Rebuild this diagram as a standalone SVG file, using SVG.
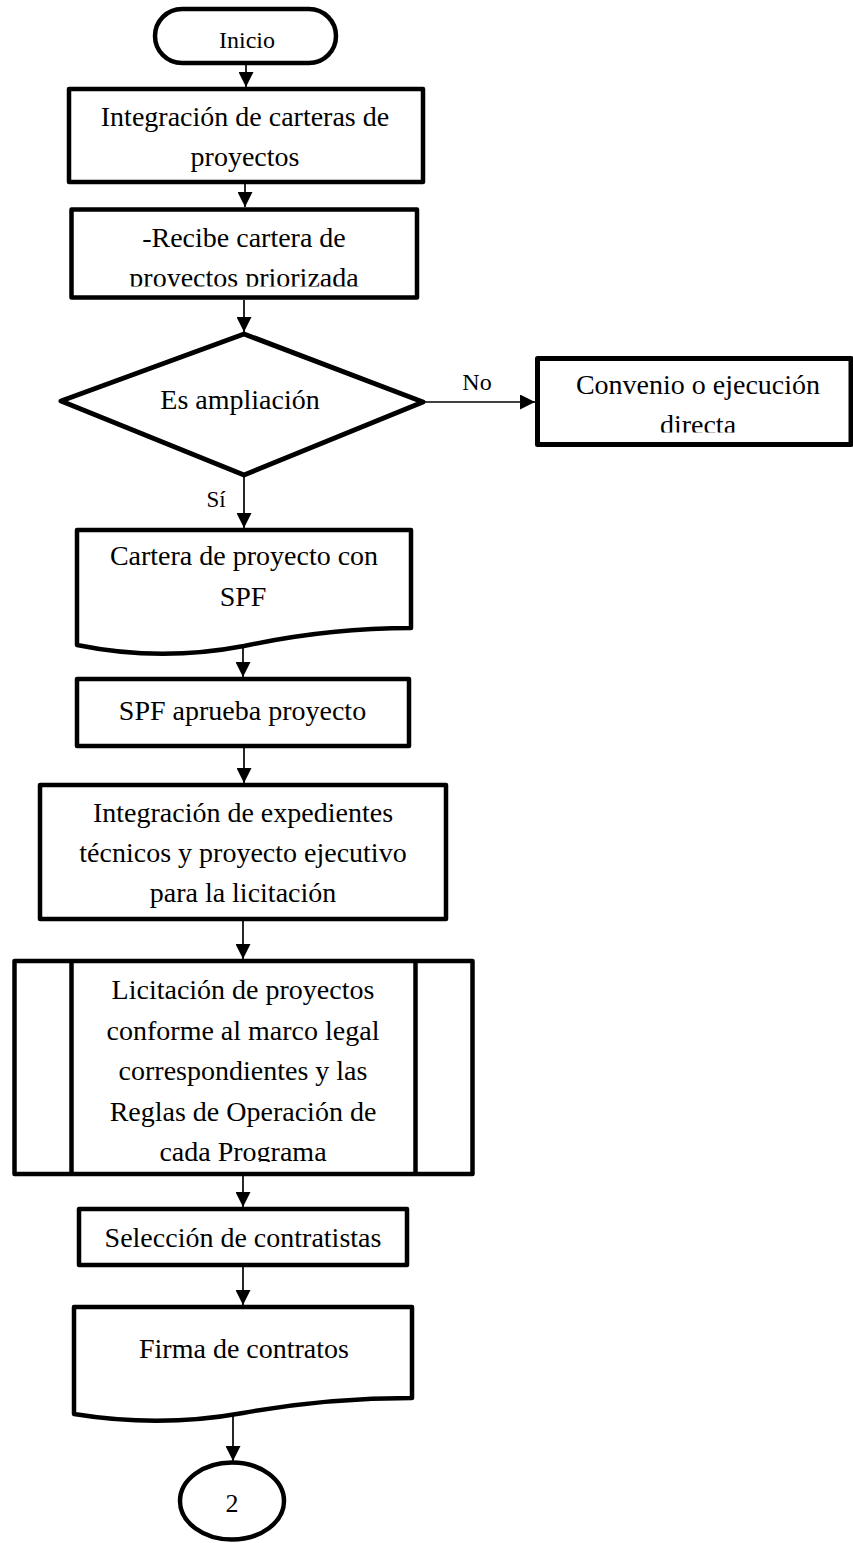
<svg xmlns="http://www.w3.org/2000/svg" width="853" height="1543" viewBox="0 0 853 1543">
  <style>
    .shape { fill: #ffffff; stroke: #000000; stroke-width: 4.5; stroke-linejoin: round; }
    .conn { fill: none; stroke: #000000; stroke-width: 1.7; marker-end: url(#arrow); }
    .t { font-family: "Liberation Serif", "Times New Roman", serif; font-size: 28px; fill: #000000; text-anchor: middle; }
    .s { font-size: 24px; }
  </style>
  <defs>
    <marker id="arrow" markerUnits="userSpaceOnUse" markerWidth="15" markerHeight="15" refX="15" refY="7.5" orient="auto">
      <path d="M0,0 L15,7.5 L0,15 z" fill="#000000"/>
    </marker>
    <clipPath id="clip3"><rect x="60" y="200" width="370" height="86.5"/></clipPath>
    <clipPath id="clipConv"><rect x="540" y="360" width="310" height="72.5"/></clipPath>
    <clipPath id="clipLic"><rect x="75" y="965" width="338" height="197"/></clipPath>
  </defs>

  <g id="connectors">
    <line class="conn" x1="246" y1="65" x2="246" y2="87"/>
    <line class="conn" x1="245" y1="184" x2="245" y2="207"/>
    <line class="conn" x1="244" y1="300" x2="244" y2="332"/>
    <line class="conn" x1="423" y1="402" x2="535" y2="402"/>
    <line class="conn" x1="244" y1="476" x2="244" y2="528"/>
    <line class="conn" x1="243" y1="648" x2="243" y2="677"/>
    <line class="conn" x1="244" y1="748" x2="244" y2="783"/>
    <line class="conn" x1="243" y1="921" x2="243" y2="959"/>
    <line class="conn" x1="243" y1="1176" x2="243" y2="1207"/>
    <line class="conn" x1="243" y1="1267" x2="243" y2="1305"/>
    <line class="conn" x1="233" y1="1416" x2="233" y2="1461"/>
    <text class="t s" x="477" y="390">No</text>
    <text class="t" x="216" y="507" style="font-size:23px">Sí</text>
  </g>

  <g id="inicio">
    <rect class="shape" x="155" y="9" width="181" height="54" rx="27" ry="27"/>
    <text class="t s" x="247" y="48">Inicio</text>
  </g>

  <g id="integracion-carteras">
    <rect class="shape" x="69" y="89" width="354" height="93"/>
    <text class="t" x="245" y="126">Integración de carteras de</text>
    <text class="t" x="245" y="166">proyectos</text>
  </g>

  <g id="recibe-cartera">
    <rect class="shape" x="71.5" y="209.5" width="345.5" height="88"/>
    <g clip-path="url(#clip3)">
      <text class="t" x="244" y="247">-Recibe cartera de</text>
      <text class="t" x="244" y="287">proyectos priorizada</text>
    </g>
  </g>

  <g id="es-ampliacion">
    <polygon class="shape" points="61,401 244,334 423,402 244,475" style="stroke-width:5"/>
    <text class="t" x="240" y="409">Es ampliación</text>
  </g>

  <g id="convenio">
    <rect class="shape" x="537.5" y="358.5" width="313.5" height="86" style="stroke-width:5"/>
    <g clip-path="url(#clipConv)">
      <text class="t" x="698" y="394">Convenio o ejecución</text>
      <text class="t" x="698" y="434">directa</text>
    </g>
  </g>

  <g id="cartera-spf">
    <path class="shape" d="M77,645 L77,530 L411,530 L411,628 L411,628 Q328,628 244,646 Q160,662 77,645 z"/>
    <text class="t" x="244" y="565">Cartera de proyecto con</text>
    <text class="t" x="243" y="606">SPF</text>
  </g>

  <g id="spf-aprueba">
    <rect class="shape" x="77" y="679" width="332" height="67"/>
    <text class="t" x="242.5" y="720">SPF aprueba proyecto</text>
  </g>

  <g id="integracion-expedientes">
    <rect class="shape" x="40" y="785" width="406" height="134"/>
    <text class="t" x="243" y="822">Integración de expedientes</text>
    <text class="t" x="243" y="862">técnicos y proyecto ejecutivo</text>
    <text class="t" x="243" y="902">para la licitación</text>
  </g>

  <g id="licitacion">
    <rect class="shape" x="14.5" y="961" width="458" height="213"/>
    <line x1="71.5" y1="961" x2="71.5" y2="1174" stroke="#000000" stroke-width="4.5"/>
    <line x1="415.5" y1="961" x2="415.5" y2="1174" stroke="#000000" stroke-width="4.5"/>
    <g clip-path="url(#clipLic)">
      <text class="t" x="243" y="999">Licitación de proyectos</text>
      <text class="t" x="243" y="1040">conforme al marco legal</text>
      <text class="t" x="243" y="1080">correspondientes y las</text>
      <text class="t" x="243" y="1121">Reglas de Operación de</text>
      <text class="t" x="243" y="1161">cada Programa</text>
    </g>
  </g>

  <g id="seleccion">
    <rect class="shape" x="79" y="1209" width="328" height="56"/>
    <text class="t" x="243" y="1247">Selección de contratistas</text>
  </g>

  <g id="firma">
    <path class="shape" d="M74,1414 L74,1307 L412,1307 L412,1398 Q326,1398 243,1413 Q160,1428 74,1414 z"/>
    <text class="t" x="244" y="1358">Firma de contratos</text>
  </g>

  <g id="conector-2">
    <ellipse class="shape" cx="232" cy="1501" rx="52" ry="38.5"/>
    <text class="t" x="232" y="1512" style="font-size:26px">2</text>
  </g>
</svg>
